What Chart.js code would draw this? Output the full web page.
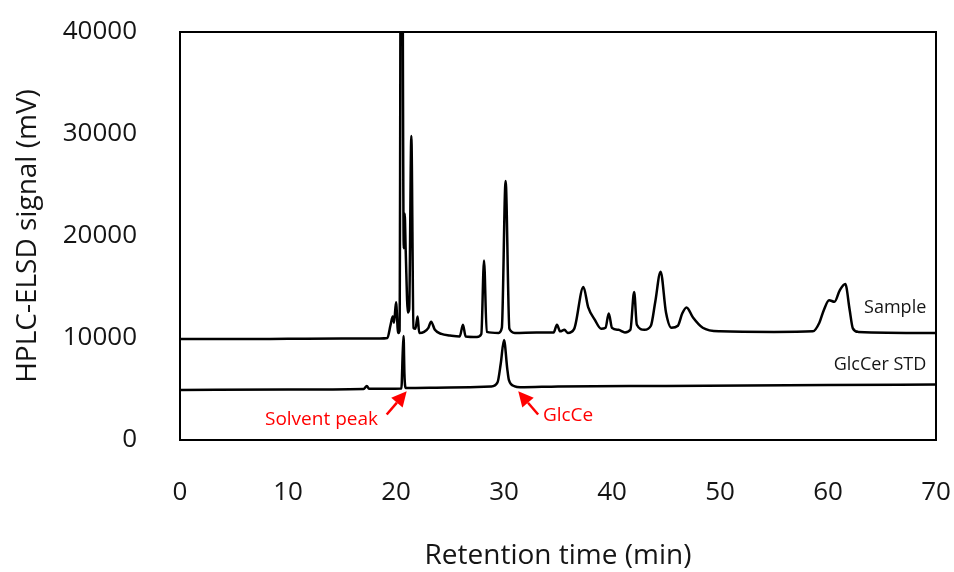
<!DOCTYPE html>
<html>
<head>
<meta charset="utf-8">
<script src="https://cdn.jsdelivr.net/npm/chart.js@4.4.1/dist/chart.umd.min.js"></script>
<style>
  html, body { margin: 0; padding: 0; background: #fff; }
  #wrap { width: 954px; height: 572px; }
</style>
</head>
<body>
<div id="wrap"><canvas id="hplc"></canvas></div>
<script>
// retention time (min) / signal (mV)
const sampleTime = [0, 5, 10, 15, 18.5, 19.2, 19.5, 19.7, 19.82, 20.0, 20.2, 20.33, 20.5, 20.72, 20.8, 20.9, 21.1, 21.22, 21.42, 21.62, 21.8, 22.0, 22.15, 22.6, 23.0, 23.25, 23.6, 24.2, 25, 25.9, 26.2, 26.45, 27.5, 27.9, 28.15, 28.4, 29.5, 29.8, 30.15, 30.5, 31, 33, 34.6, 34.9, 35.2, 35.6, 35.9, 36.5, 37.35, 37.8, 38.4, 39.0, 39.4, 39.7, 40.0, 40.6, 41.2, 41.7, 42.05, 42.3, 43.0, 43.6, 44.0, 44.5, 45.0, 45.5, 46.1, 46.5, 46.9, 47.5, 48.4, 50, 55, 58.6, 59.2, 59.6, 60.1, 60.6, 61.1, 61.6, 62.0, 62.3, 62.8, 70];
const sampleSignal = [9900, 9900, 9920, 9940, 9950, 10000, 11300, 12100, 11500, 13500, 10500, 10700, 80000, 18800, 22200, 18500, 12500, 12800, 29800, 11000, 10900, 12100, 10500, 10600, 11000, 11600, 10800, 10400, 10250, 10150, 11300, 10150, 10100, 10400, 17600, 10600, 10500, 11000, 25400, 10900, 10500, 10550, 10550, 11300, 10650, 10800, 10500, 10900, 15000, 13000, 11800, 10900, 11000, 12400, 11000, 10800, 10550, 10800, 14500, 11300, 10800, 11200, 13500, 16500, 12500, 11000, 11200, 12400, 13000, 12000, 11000, 10650, 10600, 10650, 11500, 12700, 13700, 13550, 14700, 15300, 12800, 10950, 10600, 10500];

const stdTime = [0, 10, 17.0, 17.3, 17.5, 20.5, 20.62, 20.7, 20.78, 20.9, 25, 28.8, 29.4, 29.7, 30.0, 30.3, 30.45, 31.0, 31.5, 35, 45, 60, 70];
const stdSignal = [4900, 4950, 5000, 5300, 5020, 5050, 8500, 10200, 6500, 5100, 5150, 5250, 5650, 7500, 9800, 7000, 5900, 5260, 5170, 5250, 5300, 5380, 5430];

const xTicks = [0, 10, 20, 30, 40, 50, 60, 70];
const yTicks = [0, 10000, 20000, 30000, 40000];

const toPoints = (xs, ys) => xs.map((x, i) => ({ x: x, y: ys[i] }));

const FONT = "'Open Sans', 'Noto Sans', sans-serif";
const INK = '#151515';

// frame, series names and the red call-outs
const decorations = {
  id: 'decorations',
  beforeDatasetsDraw(chart) {
    const { ctx, chartArea: a } = chart;
    ctx.save();
    ctx.strokeStyle = '#000';
    ctx.lineWidth = 2;
    ctx.strokeRect(a.left, a.top, a.right - a.left, a.bottom - a.top);
    ctx.restore();
  },
  afterDatasetsDraw(chart) {
    const { ctx } = chart;
    const xs = chart.scales.x, ys = chart.scales.y;
    const px = (t) => xs.getPixelForValue(t);
    const py = (v) => ys.getPixelForValue(v);

    ctx.save();
    ctx.font = '18px ' + FONT;
    ctx.fillStyle = INK;
    ctx.textAlign = 'right';
    ctx.textBaseline = 'middle';
    ctx.fillText('Sample', px(69.1), py(12960));
    ctx.fillText('GlcCer STD', px(69.1), py(7390));

    const arrow = (x0, y0, x1, y1) => {
      const ang = Math.atan2(y1 - y0, x1 - x0);
      const head = 15, half = 7.5;
      const bx = x1 - head * Math.cos(ang), by = y1 - head * Math.sin(ang);
      ctx.beginPath();
      ctx.moveTo(x0, y0);
      ctx.lineTo(bx, by);
      ctx.stroke();
      ctx.beginPath();
      ctx.moveTo(x1, y1);
      ctx.lineTo(bx + half * Math.sin(ang), by - half * Math.cos(ang));
      ctx.lineTo(bx - half * Math.sin(ang), by + half * Math.cos(ang));
      ctx.closePath();
      ctx.fill();
    };

    ctx.strokeStyle = '#ff0000';
    ctx.fillStyle = '#ff0000';
    ctx.lineWidth = 2.5;
    arrow(px(19.14), py(2495), px(20.99), py(4775));
    arrow(px(33.16), py(2495), px(31.32), py(4775));

    ctx.font = '19px ' + FONT;
    ctx.textAlign = 'right';
    ctx.fillText('Solvent peak', px(18.33), py(2006));
    ctx.textAlign = 'left';
    ctx.fillText('GlcCe', px(33.6), py(2397));
    ctx.restore();
  }
};

const trace = (label, xs, ys) => ({
  label: label,
  data: toPoints(xs, ys),
  borderColor: '#000',
  borderWidth: 2.5,
  pointRadius: 0,
  cubicInterpolationMode: 'monotone'
});

new Chart(document.getElementById('hplc'), {
  type: 'line',
  data: {
    datasets: [
      trace('Sample', sampleTime, sampleSignal),
      trace('GlcCer STD', stdTime, stdSignal)
    ]
  },
  options: {
    responsive: true,
    maintainAspectRatio: false,
    animation: false,
    layout: { padding: { top: 32, right: 18, left: 0, bottom: 0 } },
    plugins: {
      legend: { display: false },
      tooltip: { enabled: false }
    },
    scales: {
      x: {
        type: 'linear',
        min: 0,
        max: 70,
        afterBuildTicks: (s) => { s.ticks = xTicks.map(v => ({ value: v })); },
        afterFit: (s) => { s.height = 132; s.paddingLeft = 0; s.paddingRight = 0; },
        grid: { display: false, drawTicks: false },
        border: { display: false },
        ticks: {
          color: INK,
          padding: 37,
          maxRotation: 0,
          font: { family: FONT, size: 26 }
        },
        title: {
          display: true,
          text: 'Retention time (min)',
          color: INK,
          padding: { top: 0, bottom: -1 },
          font: { family: FONT, size: 28 }
        }
      },
      y: {
        min: 0,
        max: 40000,
        afterBuildTicks: (s) => { s.ticks = yTicks.map(v => ({ value: v })); },
        afterFit: (s) => { s.width = 180; s.paddingTop = 0; s.paddingBottom = 0; },
        grid: { display: false, drawTicks: false },
        border: { display: false },
        ticks: {
          color: INK,
          padding: 43,
          font: { family: FONT, size: 26 },
          callback: (v) => String(v)
        },
        title: {
          display: true,
          text: 'HPLC-ELSD signal (mV)',
          color: INK,
          padding: { top: 11, bottom: 0 },
          font: { family: FONT, size: 28 }
        }
      }
    }
  },
  plugins: [decorations]
});
</script>
</body>
</html>
